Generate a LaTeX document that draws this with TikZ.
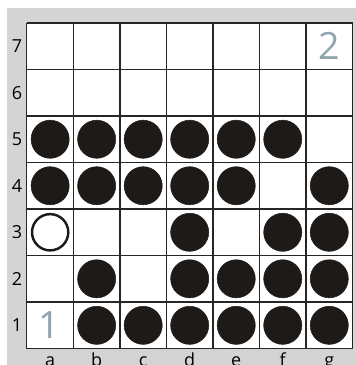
\documentclass[tikz,border=0pt]{standalone}
\usepackage{fontspec}
\setmainfont{Open Sans}
\usepackage{xcolor}
\usepackage{tikz}
\usetikzlibrary{positioning, calc}

\definecolor{boardgray}{HTML}{D4D4D4}
\definecolor{stoneblack}{HTML}{1E1A18}
\definecolor{movenum}{HTML}{8FA5AD}

\begin{document}
\begin{tikzpicture}[x=1cm, y=1cm,
  blackstone/.style={fill=stoneblack, draw=stoneblack, line width=0.3pt},
  whitestone/.style={fill=white, draw=stoneblack, line width=1.5pt},
  movelabel/.style={text=movenum, font=\fontsize{23}{26}\selectfont}]
\useasboundingbox (-0.578,-0.353) rectangle (7.064,7.493);
\fill[boardgray] (-0.428,-0.353) rectangle (7.064,7.32);
\fill[white] (0,0) rectangle (7,7);

% grid
\foreach \i in {0,...,7} {
  \draw[line width=0.7pt, black!85] (\i,0) -- (\i,7);
  \draw[line width=0.7pt, black!85] (0,\i) -- (7,\i);
}

% row and column labels
\foreach \r in {1,...,7}
  \node (row\r) at (-0.214,\r-0.5) {\fontsize{11}{13}\selectfont \r};
\foreach \c [count=\k] in {a,b,c,d,e,f,g}
  \node[anchor=base] (col\c) at (\k-0.5,-0.38) {\fontsize{11}{13}\selectfont \c};

% black stones (column, row)
\foreach \x/\y in {1/5,2/5,3/5,4/5,5/5,6/5,
                   1/4,2/4,3/4,4/4,5/4,7/4,
                   4/3,6/3,7/3,
                   2/2,4/2,5/2,6/2,7/2,
                   2/1,3/1,4/1,5/1,6/1,7/1}
  \fill[blackstone] (\x-0.5,\y-0.5) circle (0.41);

% white stone
\draw[whitestone] (0.5,2.5) circle (0.39);

% move numbers
\node[movelabel] (first) at (0.48,0.5) {1};
\node[movelabel] (second) at (6.5,6.5) {2};
\end{tikzpicture}
\end{document}
